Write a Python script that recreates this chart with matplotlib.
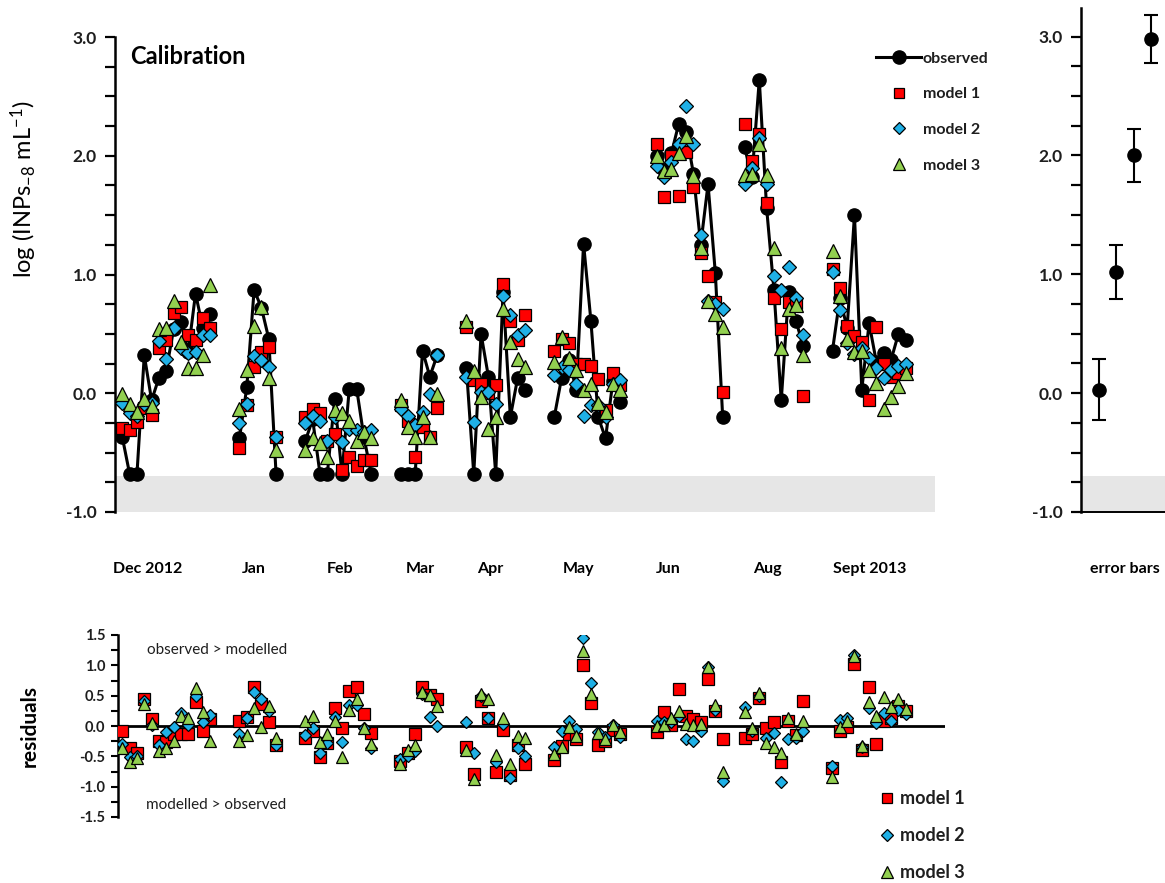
import matplotlib
matplotlib.use('Agg')
import matplotlib.pyplot as plt
import numpy as np
from matplotlib.lines import Line2D
from matplotlib.ticker import MultipleLocator, FormatStrFormatter

plt.rcParams['font.family'] = ['Lato', 'DejaVu Sans']
plt.rcParams['mathtext.fontset'] = 'custom'
plt.rcParams['mathtext.rm'] = 'Lato'
plt.rcParams['mathtext.default'] = 'regular'

# sample slots, one campaign per block (gaps between campaigns)
sample_x = [1, 2, 3, 4, 5, 6, 7, 8, 9, 10, 11, 12, 13,          # Dec
            17, 18, 19, 20, 21, 22,                              # Jan
            26, 27, 28, 29, 30, 31, 32, 33, 34, 35,              # Feb
            39, 40, 41, 42, 43, 44,                              # Mar
            48, 49, 50, 51, 52, 53, 54, 55, 56,                  # Apr
            60, 61, 62, 63, 64, 65, 66, 67, 68, 69,              # May
            74, 75, 76, 77, 78, 79, 80, 81, 82, 83,              # Jun
            86, 87, 88, 89, 90, 91, 92, 93, 94,                  # Aug
            98, 99, 100, 101, 102, 103, 104, 105, 106, 107, 108]  # Sept

observed = [-0.37, -0.68, -0.68, 0.32, -0.06, 0.13, 0.19, 0.54, 0.60, 0.35, 0.84, 0.55, 0.67,
            -0.38, 0.05, 0.87, 0.72, 0.46, -0.68,
            -0.40, -0.22, -0.68, -0.68, -0.05, -0.68, 0.04, 0.04, -0.37, -0.68,
            -0.68, -0.68, -0.68, 0.36, 0.14, 0.32,
            0.21, -0.68, 0.50, 0.14, -0.68, 0.85, -0.20, 0.13, 0.03,
            -0.20, 0.13, 0.28, 0.03, 1.26, 0.61, -0.20, -0.38, 0.10, -0.07,
            2.00, 1.88, 2.02, 2.27, 2.20, 1.85, 1.25, 1.76, 1.01, -0.20,
            2.07, 1.82, 2.64, 1.56, 0.87, -0.06, 0.85, 0.61, 0.40,
            0.36, 0.80, 0.55, 1.50, 0.03, 0.59, 0.26, 0.34, 0.28, 0.50, 0.45]

model1 = [-0.29, -0.31, -0.24, -0.12, -0.18, 0.38, 0.45, 0.68, 0.73, 0.49, 0.45, 0.63, 0.55,
          -0.46, -0.10, 0.22, 0.35, 0.39, -0.37,
          -0.20, -0.13, -0.17, -0.40, -0.34, -0.65, -0.54, -0.61, -0.56, -0.56,
          -0.10, -0.23, -0.54, -0.28, -0.37, -0.12,
          0.56, 0.11, 0.08, 0.00, 0.07, 0.92, 0.61, 0.45, 0.66,
          0.36, 0.46, 0.42, 0.25, 0.25, 0.23, 0.12, -0.14, 0.17, 0.07,
          2.10, 1.65, 2.00, 1.66, 2.03, 1.74, 1.18, 0.99, 0.77, 0.01,
          2.27, 1.96, 2.18, 1.60, 0.80, 0.54, 0.77, 0.76, -0.02,
          1.05, 0.89, 0.57, 0.48, 0.43, -0.06, 0.56, 0.25, 0.14, 0.17, 0.21]

model2 = [-0.08, -0.17, -0.19, -0.09, -0.08, 0.44, 0.29, 0.55, 0.38, 0.34, 0.35, 0.49, 0.49,
          -0.25, -0.09, 0.31, 0.28, 0.22, -0.37,
          -0.25, -0.19, -0.23, -0.40, -0.20, -0.41, -0.30, -0.31, -0.33, -0.31,
          -0.13, -0.19, -0.27, -0.16, -0.01, 0.32,
          0.14, -0.24, 0.01, 0.01, -0.09, 0.82, 0.66, 0.49, 0.53,
          0.15, 0.22, 0.20, 0.08, -0.19, -0.10, -0.10, -0.20, 0.08, 0.11,
          1.91, 1.82, 1.95, 2.10, 2.42, 2.10, 1.33, 0.78, 0.75, 0.71,
          1.76, 1.90, 2.15, 1.76, 0.99, 0.87, 1.06, 0.80, 0.49,
          1.02, 0.70, 0.42, 0.33, 0.38, 0.30, 0.21, 0.13, 0.20, 0.23, 0.25]

model3 = [-0.01, -0.09, -0.16, -0.05, -0.11, 0.54, 0.55, 0.78, 0.43, 0.21, 0.21, 0.32, 0.91,
          -0.13, 0.20, 0.57, 0.73, 0.13, -0.48,
          -0.48, -0.38, -0.42, -0.54, -0.14, -0.17, -0.23, -0.40, -0.33, -0.38,
          -0.06, -0.28, -0.37, -0.20, -0.37, -0.01,
          0.61, 0.19, -0.03, -0.30, -0.20, 0.71, 0.43, 0.29, 0.22,
          0.26, 0.47, 0.30, 0.20, 0.03, 0.08, -0.08, -0.16, 0.08, 0.03,
          2.00, 1.87, 1.89, 2.02, 2.17, 1.83, 1.22, 0.78, 0.67, 0.56,
          1.84, 1.85, 2.10, 1.84, 1.22, 0.38, 0.71, 0.74, 0.32,
          1.20, 0.82, 0.46, 0.35, 0.36, 0.20, 0.09, -0.13, -0.03, 0.06, 0.17]

month_pos = [4.5, 18.9, 30.7, 41.7, 51.2, 63.3, 75.5, 89.1, 103.1]
month_labels = ['Dec 2012', 'Jan', 'Feb', 'Mar', 'Apr', 'May', 'Jun', 'Aug', 'Sept 2013']

# typical uncertainty at four concentration levels
err_x = [1, 2, 3, 4]
err_y = [0.03, 1.02, 2.00, 2.98]
err_size = [0.26, 0.23, 0.22, 0.20]

detect_limit = -0.7

RED = '#ff0000'
BLUE = '#1fb0e6'
GREEN = '#92d050'
TXT = '#1e1e1e'

x = np.array(sample_x, dtype=float)
obs = np.array(observed)
models = [np.array(model1), np.array(model2), np.array(model3)]

# break the observed line between campaigns
breaks = np.where(np.diff(x) > 2)[0] + 1
x_line = np.insert(x, breaks, np.nan)
obs_line = np.insert(obs, breaks, np.nan)

fig = plt.figure(figsize=(11.65, 8.83), dpi=100)
W, H = 1165.0, 883.0

ax = fig.add_axes([115 / W, 1 - 512 / H, 820 / W, 475 / H])
ax_e = fig.add_axes([1081 / W, 1 - 512 / H, 84 / W, 504 / H])
ax_r = fig.add_axes([118 / W, 1 - 817 / H, 827 / W, 182 / H])

styles = [dict(marker='s', color=RED, ms=9, label='model 1'),
          dict(marker='D', color=BLUE, ms=6.8, label='model 2'),
          dict(marker='^', color=GREEN, ms=9.5, label='model 3')]

# --- main panel
ax.axhspan(-1, detect_limit, color='#e6e6e6', lw=0, zorder=0)
ax.plot(x_line, obs_line, '-', color='black', lw=2.2, zorder=2)
ax.plot(x, obs, 'o', color='black', ms=9.5, zorder=2)
for m, st in zip(models, styles):
    ax.plot(x, m, ls='none', marker=st['marker'], ms=st['ms'], mfc=st['color'],
            mec='black', mew=0.9, zorder=3)

ax.set_xlim(0, 112)
ax.set_ylim(-1, 3)
ax.yaxis.set_major_locator(MultipleLocator(1))
ax.yaxis.set_minor_locator(MultipleLocator(0.25))
ax.yaxis.set_major_formatter(FormatStrFormatter('%.1f'))
ax.set_xticks(month_pos)
ax.set_xticklabels(month_labels, fontsize=11.5, fontweight='bold', color='black')
ax.tick_params(axis='x', length=0, pad=36)
ax.tick_params(axis='y', which='both', direction='out', length=7, width=1.6,
               labelsize=12.5, labelcolor=TXT, pad=6)
for lab in ax.get_yticklabels():
    lab.set_fontweight('bold')
for s in ['top', 'right', 'bottom']:
    ax.spines[s].set_visible(False)
ax.spines['left'].set_linewidth(1.8)
ax.set_ylabel(r'log (INPs$_{-8}$ mL$^{-1}$)', fontsize=17, color='black')
ax.yaxis.set_label_coords(-0.093, 0.68)
ax.text(0.018, 0.958, 'Calibration', transform=ax.transAxes, fontsize=17,
        fontweight='bold', color='black', va='center', ha='left')

handles = [Line2D([], [], color='black', lw=2.2, marker='o', ms=9.5, label='observed')]
for st in styles:
    handles.append(Line2D([], [], ls='none', marker=st['marker'], ms=st['ms'] * 0.85,
                          mfc=st['color'], mec='black', mew=0.9, label=st['label']))
leg = fig.legend(handles=handles, loc='upper left', bbox_to_anchor=(862 / W, 1 - 37 / H),
                 frameon=False, handlelength=2.8, handletextpad=0.1, labelspacing=1.35,
                 prop={'size': 11.5, 'weight': 'bold'})
for t in leg.get_texts():
    t.set_color(TXT)

# --- error bar panel
ax_e.axhspan(-1, detect_limit, color='#e6e6e6', lw=0, zorder=0)
ax_e.errorbar(err_x, err_y, yerr=err_size, fmt='o', color='black', ms=9.5,
              elinewidth=1.5, capsize=5, capthick=1.5)
ax_e.set_xlim(0, 4.8)
ax_e.set_ylim(-1, 3.24)
ax_e.set_yticks([-1, 0, 1, 2, 3])
ax_e.yaxis.set_minor_locator(MultipleLocator(0.25))
ax_e.yaxis.set_major_formatter(FormatStrFormatter('%.1f'))
ax_e.set_xticks([2.5])
ax_e.set_xticklabels(['error bars'], fontsize=11.5, fontweight='bold', color='black')
ax_e.tick_params(axis='x', length=0, pad=36)
ax_e.tick_params(axis='y', which='both', direction='out', length=7, width=1.6,
                 labelsize=12.5, labelcolor=TXT, pad=6)
for lab in ax_e.get_yticklabels():
    lab.set_fontweight('bold')
for s in ['top', 'right']:
    ax_e.spines[s].set_visible(False)
ax_e.spines['left'].set_linewidth(1.8)
ax_e.spines['bottom'].set_linewidth(1.4)

# --- residual panel (observed minus modelled)
ax_r.axhline(0, color='black', lw=2, zorder=1)
for m, st in zip(models, styles):
    ax_r.plot(x, obs - m, ls='none', marker=st['marker'], ms=st['ms'] * 0.92,
              mfc=st['color'], mec='black', mew=0.9, zorder=3)
ax_r.set_xlim(3 / 7.32, 830 / 7.32)
ax_r.set_ylim(-1.5, 1.5)
ax_r.yaxis.set_major_locator(MultipleLocator(0.5))
ax_r.yaxis.set_minor_locator(MultipleLocator(0.25))
ax_r.yaxis.set_major_formatter(FormatStrFormatter('%.1f'))
ax_r.set_xticks([])
ax_r.tick_params(axis='y', which='both', direction='out', length=5, width=1.5,
                 labelsize=10.5, labelcolor=TXT, pad=4)
for lab in ax_r.get_yticklabels():
    lab.set_fontweight('bold')
for s in ['top', 'right', 'bottom']:
    ax_r.spines[s].set_visible(False)
ax_r.spines['left'].set_linewidth(1.8)
ax_r.set_ylabel('residuals', fontsize=15, fontweight='bold', color='black')
ax_r.yaxis.set_label_coords(-0.095, 0.5)
ax_r.text(4.4, 1.25, 'observed > modelled', fontsize=11, color=TXT, va='center')
ax_r.text(4.2, -1.3, 'modelled > observed', fontsize=11, color=TXT, va='center')

rhandles = [Line2D([], [], ls='none', marker=st['marker'], ms=st['ms'] * 0.85,
                   mfc=st['color'], mec='black', mew=0.9, label=st['label']) for st in styles]
leg2 = fig.legend(handles=rhandles, loc='upper left', bbox_to_anchor=(864 / W, 1 - 774 / H),
                  frameon=False, handlelength=0.8, handletextpad=0.3, labelspacing=1.1,
                  prop={'size': 13, 'weight': 'bold'})
for t in leg2.get_texts():
    t.set_color(TXT)

fig.savefig('out.png', dpi=100, facecolor='white')
